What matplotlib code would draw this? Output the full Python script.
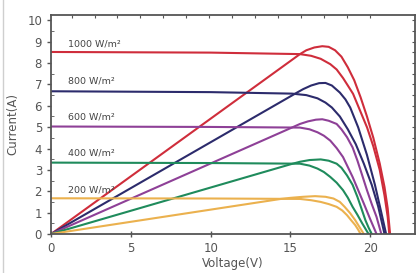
import numpy as np
import matplotlib
matplotlib.use("Agg")
import matplotlib.pyplot as plt

# irradiance levels, labels and colours
levels = ["1000 W/m²", "800 W/m²", "600 W/m²", "400 W/m²", "200 W/m²"]
colors = ["#cf2d3b", "#2c2b6c", "#8e4097", "#1f8b5c", "#ebb14e"]
label_y = [8.88, 7.16, 5.49, 3.77, 2.05]

# I-V curves (voltage, current)
iv_v = [
    [0, 10, 15.6, 16.3, 16.9, 17.5, 17.9, 18.3, 18.6, 18.93, 19.37, 19.81, 20.2, 20.6, 20.9, 21.1, 21.2],
    [0, 10, 15.1, 16.0, 16.7, 17.2, 17.6, 18.1, 18.6, 19.1, 19.6, 20.1, 20.5, 20.9],
    [0, 10, 15.6, 16.2, 16.7, 17.1, 17.5, 17.9, 18.3, 18.9, 19.6, 20.0, 20.4],
    [0, 10, 15.6, 16.2, 16.7, 17.1, 17.5, 17.9, 18.3, 18.6, 18.9, 19.2, 19.5, 19.9],
    [0, 10, 15.6, 16.3, 16.9, 17.4, 17.9, 18.25, 18.55, 18.8, 19.06, 19.25, 19.4],
]
iv_i = [
    [8.52, 8.49, 8.42, 8.34, 8.2, 7.95, 7.7, 7.3, 6.95, 6.56, 5.77, 4.98, 4.1, 3.0, 1.8, 0.8, 0],
    [6.68, 6.64, 6.57, 6.5, 6.35, 6.15, 5.92, 5.5, 4.9, 4.2, 3.3, 2.3, 1.3, 0],
    [5.03, 5.01, 4.98, 4.9, 4.76, 4.6, 4.37, 4.02, 3.6, 2.67, 1.43, 0.7, 0],
    [3.34, 3.32, 3.29, 3.2, 3.06, 2.9, 2.67, 2.4, 2.05, 1.7, 1.27, 0.9, 0.5, 0],
    [1.67, 1.66, 1.64, 1.58, 1.5, 1.4, 1.27, 1.1, 0.88, 0.65, 0.42, 0.2, 0],
]

# scaled power curves (voltage, value)
pv_v = [
    [0, 15.6, 16.0, 16.5, 17.0, 17.4, 17.8, 18.2, 18.6, 19.0, 19.4, 19.8, 20.2, 20.6, 20.9, 21.1, 21.25],
    [0, 15.3, 15.8, 16.3, 16.8, 17.2, 17.6, 18.1, 18.45, 18.75, 19.25, 19.8, 20.3, 20.7, 21.0],
    [0, 15.0, 15.6, 16.1, 16.6, 17.0, 17.4, 17.9, 18.2, 18.55, 18.9, 19.2, 19.5, 19.8, 20.1, 20.4, 20.7],
    [0, 15.0, 15.6, 16.2, 16.9, 17.4, 17.9, 18.2, 18.55, 18.9, 19.2, 19.45, 19.7, 19.9, 20.1],
    [0, 14.4, 15.0, 15.8, 16.55, 17.2, 17.7, 18.1, 18.4, 18.75, 19.06, 19.35, 19.6],
]
pv_p = [
    [0, 8.42, 8.6, 8.73, 8.79, 8.76, 8.6, 8.3, 7.8, 7.2, 6.4, 5.5, 4.5, 3.3, 2.2, 1.2, 0],
    [0, 6.57, 6.78, 6.95, 7.06, 7.07, 6.95, 6.62, 6.3, 5.92, 4.99, 3.7, 2.3, 1.0, 0],
    [0, 4.95, 5.15, 5.27, 5.35, 5.37, 5.3, 5.15, 4.9, 4.53, 4.05, 3.44, 2.75, 2.05, 1.4, 0.8, 0],
    [0, 3.26, 3.38, 3.46, 3.49, 3.43, 3.29, 3.1, 2.74, 2.3, 1.74, 1.2, 0.65, 0.3, 0],
    [0, 1.64, 1.69, 1.74, 1.77, 1.74, 1.66, 1.5, 1.27, 0.97, 0.65, 0.3, 0],
]

fig = plt.figure(figsize=(4.19, 2.73), dpi=100)
ax = fig.add_axes([0.122, 0.143, 0.868, 0.802])

for k in range(len(levels)):
    ax.plot(iv_v[k], iv_i[k], color=colors[k], lw=1.5, solid_capstyle="round", solid_joinstyle="round")
    ax.plot(pv_v[k], pv_p[k], color=colors[k], lw=1.5, solid_capstyle="round", solid_joinstyle="round")
    ax.text(1.07, label_y[k], levels[k], fontsize=6.8, color="#444444", va="center")

ax.set_xlim(0, 22.8)
ax.set_ylim(0, 10.25)
ax.set_xticks([0, 5, 10, 15, 20])
ax.set_yticks(range(0, 11))
ax.set_yticks(np.arange(0.5, 10, 0.5), minor=True)
ax.tick_params(axis="both", labelsize=8.5, colors="#555555", direction="out", length=3, width=1)
ax.tick_params(axis="y", which="minor", direction="in", length=2, color="#555555")
ax.tick_params(axis="x", which="major", direction="inout", length=4)

for s in ax.spines.values():
    s.set_color("#555555")
    s.set_linewidth(1.3)

ax.set_xlabel("Voltage(V)", fontsize=8.5, color="#555555", labelpad=2)
ax.set_ylabel("Current(A)", fontsize=8.5, color="#555555", labelpad=6)

# decorative ticks on the top and right frame
top = ax.secondary_xaxis("top")
top.set_xticks(np.arange(20, 0, -1.44))
top.tick_params(direction="in", length=2.5, labeltop=False, color="#555555")
top.spines["top"].set_visible(False)
right = ax.secondary_yaxis("right")
right.set_yticks(np.arange(0.5, 10.25, 0.5))
right.tick_params(direction="in", length=2.5, labelright=False, color="#555555")
right.spines["right"].set_visible(False)

# thin grey edge on the left of the image
fig.add_artist(plt.Line2D([0.008, 0.008], [0, 1], transform=fig.transFigure,
                          color="#cfcfcf", lw=1))

fig.savefig("out.png", dpi=100)
